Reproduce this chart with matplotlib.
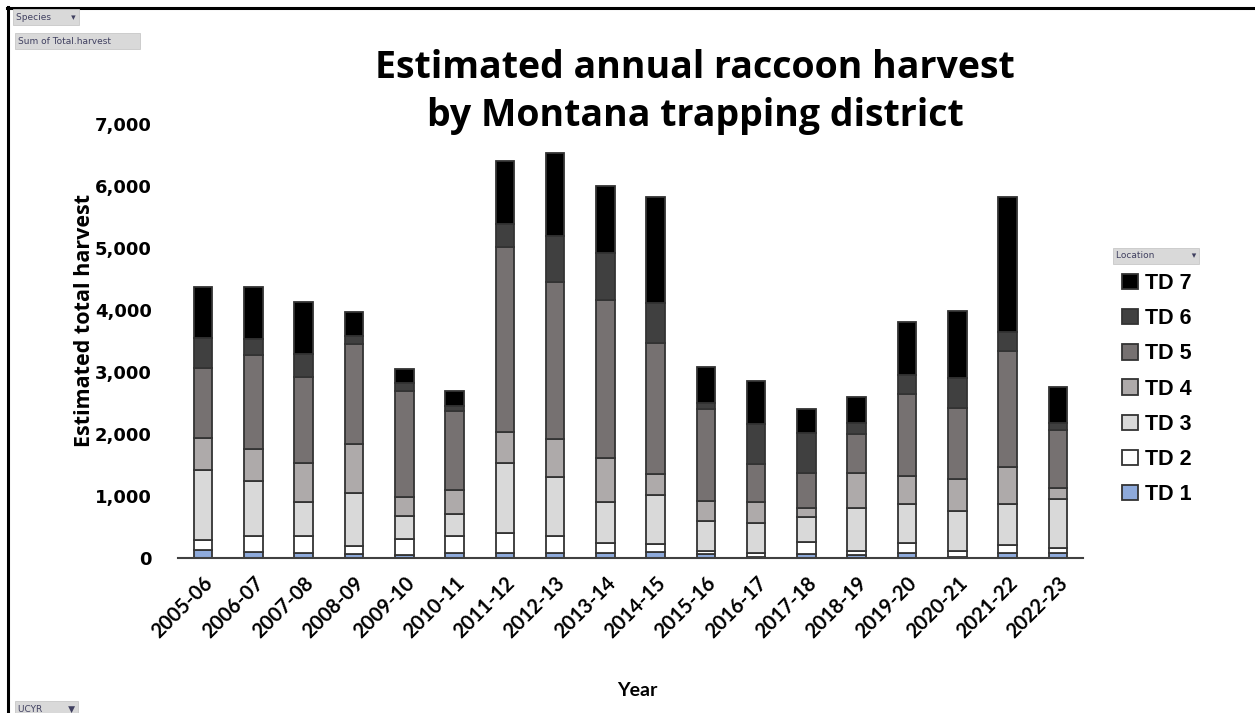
import matplotlib
matplotlib.use("Agg")
import matplotlib.pyplot as plt
import numpy as np
from matplotlib.patches import Patch
from matplotlib.lines import Line2D

# harvest by season
years = ['2005-06', '2006-07', '2007-08', '2008-09', '2009-10', '2010-11',
         '2011-12', '2012-13', '2013-14', '2014-15', '2015-16', '2016-17',
         '2017-18', '2018-19', '2019-20', '2020-21', '2021-22', '2022-23']

td1 = [130, 100, 86, 65, 48, 86, 86, 86, 86, 102, 65, 22, 65, 48, 86, 11, 75, 75]
td2 = [155, 260, 274, 135, 258, 274, 312, 274, 161, 118, 48, 64, 198, 65, 161, 102, 135, 81]
td3 = [1135, 887, 548, 843, 377, 350, 1140, 952, 661, 796, 484, 484, 404, 688, 619, 645, 656, 796]
td4 = [510, 506, 630, 790, 296, 381, 489, 602, 710, 339, 328, 338, 134, 575, 461, 516, 597, 182]
td5 = [1140, 1521, 1376, 1613, 1720, 1285, 2984, 2532, 2543, 2118, 1473, 603, 575, 624, 1324, 1151, 1876, 931]
td6 = [483, 253, 371, 129, 118, 81, 371, 753, 753, 635, 107, 645, 646, 172, 300, 484, 301, 107]
td7 = [823, 849, 839, 398, 226, 242, 1021, 1339, 1086, 1709, 570, 704, 376, 419, 860, 1080, 2177, 591]

series = [td1, td2, td3, td4, td5, td6, td7]
names = ['TD 1', 'TD 2', 'TD 3', 'TD 4', 'TD 5', 'TD 6', 'TD 7']
colors = ['#8eaadb', '#ffffff', '#d9d9d9', '#aeaaaa', '#767171', '#404040', '#000000']

W, H = 1255, 713
fig = plt.figure(figsize=(W / 100, H / 100), dpi=100)

def fx(px):
    return px / W

def fy(py):
    return 1 - py / H

ax = fig.add_axes([fx(178), fy(558), fx(1083) - fx(178), fy(124) - fy(558)])

x = np.arange(len(years))
bottom = np.zeros(len(years))
for vals, name, col in zip(series, names, colors):
    ax.bar(x, vals, width=0.37, bottom=bottom, color=col, edgecolor='#333333',
           linewidth=1.3, label=name, zorder=2)
    bottom += np.array(vals)

ax.set_xlim(-0.5, len(years) - 0.5)
ax.set_ylim(0, 7000)
ax.set_yticks(np.arange(0, 7001, 1000))
ax.set_yticklabels(['{:,}'.format(v) for v in range(0, 7001, 1000)],
                   fontsize=13, fontweight='bold', family='DejaVu Sans')
ax.tick_params(axis='y', length=0, pad=19)
ax.set_xticks(x)
ax.set_xticklabels(years, rotation=45, ha='right', rotation_mode='anchor',
                   fontsize=14.5, fontweight='bold', family='Lato')
ax.tick_params(axis='x', length=0, pad=11)

for s in ['top', 'right', 'left']:
    ax.spines[s].set_visible(False)
ax.spines['bottom'].set_color('#404040')
ax.spines['bottom'].set_linewidth(1.5)

fig.text(fx(85), fy(320), 'Estimated total harvest', rotation=90, ha='center',
         va='center', fontsize=15.5, fontweight='bold', family='Open Sans')
fig.text(fx(637), fy(690), 'Year', ha='center', va='center', fontsize=14,
         fontweight='bold', family='Lato')

fig.text(fx(695), fy(92), 'Estimated annual raccoon harvest\nby Montana trapping district',
         ha='center', va='center', fontsize=27, fontweight='bold', family='Open Sans',
         linespacing=1.36)

# legend, TD 7 on top
handles = [Patch(facecolor=c, edgecolor='#333333', linewidth=1.3) for c in colors][::-1]
leg = ax.legend(handles, names[::-1], loc='upper left',
                bbox_to_anchor=(fx(1122), fy(273)), bbox_transform=fig.transFigure,
                frameon=False, borderpad=0, borderaxespad=0,
                handlelength=0.72, handleheight=0.72, handletextpad=0.35,
                labelspacing=0.66,
                prop={'family': 'Liberation Sans', 'weight': 'bold', 'size': 15.5})

# pivot field buttons
def button(px, py, label):
    fig.text(fx(px), fy(py), label, ha='left', va='center', fontsize=6.5,
             color='#404060', family='DejaVu Sans',
             bbox=dict(boxstyle='square,pad=0.35', facecolor='#d9d9d9',
                       edgecolor='#c8c8c8', linewidth=0.6))

button(16, 17, 'Species       \u25be')
button(18, 41, 'Sum of Total.harvest         ')
button(1116, 256, 'Location             \u25be')
button(18, 709, 'UCYR         \u25bc')

# black frame on top and left
fig.add_artist(Line2D([fx(7), fx(W)], [fy(7.5), fy(7.5)], color='black', lw=2.2))
fig.add_artist(Line2D([fx(7.5), fx(7.5)], [fy(7), fy(H)], color='black', lw=2.2))

fig.savefig('out.png', dpi=100)
